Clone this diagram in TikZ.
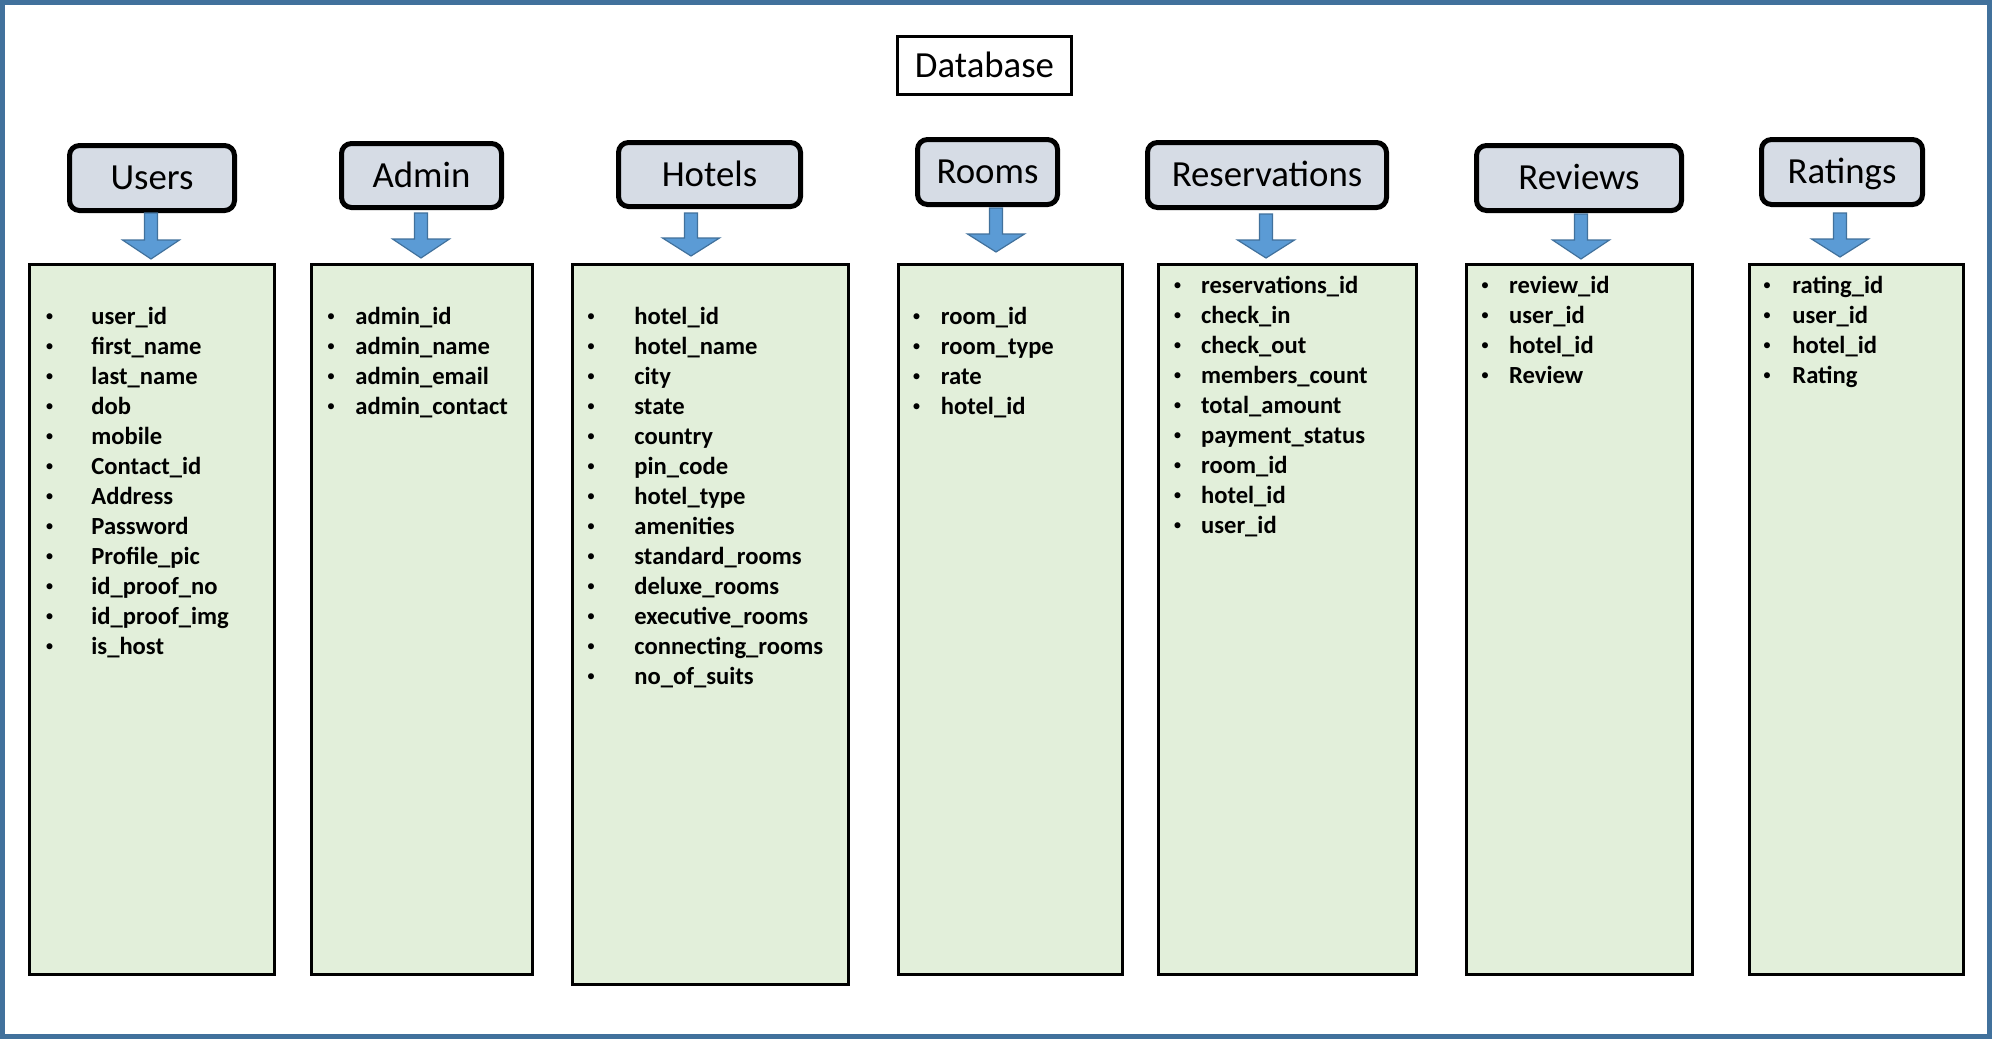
\documentclass[tikz,border=0pt]{standalone}
\usepackage{fontspec}
\setmainfont{Carlito}
\definecolor{frameblue}{HTML}{41719C}
\definecolor{hdrfill}{HTML}{D6DCE5}
\definecolor{listfill}{HTML}{E2EFDA}
\definecolor{arrowfill}{HTML}{5B9BD5}
\definecolor{arrowline}{HTML}{41719C}
\newcommand\itemcol[5]{%
  \foreach \t [count=\i] in {#5} {%
    \node[bul] (#1b\i) at (#2, {#4+30*(\i-1)}) {\raisebox{1.5pt}{\textbullet}};
    \node[itm] (#1\i) at (#3, {#4+30*(\i-1)}) {\t};
  }%
}
\newcommand\blockarrow[5]{%
  \coordinate (#1s) at (#2,#3);
  \coordinate (#1e) at (#2,#5);
  \draw[blockarr] ($(#1s)+(-6.5,0)$) -- ($(#1s)+(6.5,0)$) -- (#2+6.5,#4) -- (#2+28.5,#4)
    -- (#1e) -- (#2-28.5,#4) -- (#2-6.5,#4) -- cycle;
}
\usetikzlibrary{calc}
\begin{document}
\begin{tikzpicture}[x=0.5pt,y=-0.5pt,
  hdr/.style={draw, line width=2.5pt, rounded corners=5pt, fill=hdrfill, inner sep=0pt,
    font=\fontsize{18.4}{22}\selectfont, text height=11.85pt, text depth=0pt},
  dbbox/.style={draw, line width=1.5pt, fill=white, inner sep=0pt,
    font=\fontsize{18.4}{22}\selectfont, text height=11.85pt, text depth=0pt,
    minimum width=87pt, minimum height=29pt},
  listbox/.style={draw, line width=1.5pt, fill=listfill, inner sep=0pt},
  bul/.style={anchor=base, inner sep=0pt, font=\fontsize{8.5}{10}\selectfont},
  itm/.style={anchor=base west, inner sep=0pt, font=\fontsize{12.3}{15}\selectfont\bfseries},
  blockarr/.style={fill=arrowfill, draw=arrowline, line width=0.6pt, line join=miter}
]
\useasboundingbox (0,0) rectangle (1992,1039);
\fill[white] (0,0) rectangle (1992,1039);
\draw[frameblue, line width=2.5pt] (2.5,2.5) rectangle (1989.5,1036.5);

\node[dbbox] (db) at (984.5,65.5) {Database};

% headers
\node[hdr, minimum width=82.5pt, minimum height=32.5pt] (users) at (152,178) {Users};
\node[hdr, minimum width=80pt, minimum height=32pt] (admin) at (421.5,175.5) {Admin};
\node[hdr, minimum width=91pt, minimum height=32pt] (hotels) at (709.5,174.5) {Hotels};
\node[hdr, minimum width=70pt, minimum height=32.5pt] (rooms) at (987.5,172) {Rooms};
\node[hdr, minimum width=119.5pt, minimum height=32.5pt] (reserv) at (1267,175) {Reservations};
\node[hdr, minimum width=102.5pt, minimum height=32.5pt] (reviews) at (1579,178) {Reviews};
\node[hdr, minimum width=80.5pt, minimum height=32.5pt] (ratings) at (1842,172) {Ratings};

% list boxes
\node[listbox, minimum width=122.5pt, minimum height=355pt] (usersL) at (152,619.5) {};
\node[listbox, minimum width=110.5pt, minimum height=355pt] (adminL) at (422,619.5) {};
\node[listbox, minimum width=138pt, minimum height=360pt] (hotelsL) at (710.5,624.5) {};
\node[listbox, minimum width=112pt, minimum height=355pt] (roomsL) at (1010.5,619.5) {};
\node[listbox, minimum width=129pt, minimum height=355pt] (reservL) at (1287.5,619.5) {};
\node[listbox, minimum width=113pt, minimum height=355pt] (reviewsL) at (1579.5,619.5) {};
\node[listbox, minimum width=107pt, minimum height=355pt] (ratingsL) at (1856.5,619.5) {};

% block arrows
\blockarrow{ua}{151}{213}{240}{259}
\blockarrow{aa}{421}{213}{239}{258}
\blockarrow{ha}{691}{213}{238}{256}
\blockarrow{ra}{996}{208}{234}{252}
\blockarrow{rsa}{1266}{214}{240}{258}
\blockarrow{rva}{1581}{214}{240}{259}
\blockarrow{rta}{1840}{213}{239}{257}

% items
\itemcol{u}{49.5}{91}{324}{user\_id, first\_name, last\_name, dob, mobile, Contact\_id, Address, Password, Profile\_pic, id\_proof\_no, id\_proof\_img, is\_host}
\itemcol{a}{331}{355}{324}{admin\_id, admin\_name, admin\_email, admin\_contact}
\itemcol{h}{591}{634}{324}{hotel\_id, hotel\_name, city, state, country, pin\_code, hotel\_type, amenities, standard\_rooms, deluxe\_rooms, executive\_rooms, connecting\_rooms, no\_of\_suits}
\itemcol{r}{916.5}{940.5}{324}{room\_id, room\_type, rate, hotel\_id}
\itemcol{s}{1177.5}{1200.7}{293.5}{reservations\_id, check\_in, check\_out, members\_count, total\_amount, payment\_status, room\_id, hotel\_id, user\_id}
\itemcol{v}{1485}{1508.7}{293.5}{review\_id, user\_id, hotel\_id, Review}
\itemcol{t}{1767}{1792}{293.5}{rating\_id, user\_id, hotel\_id, Rating}
\end{tikzpicture}
\end{document}
